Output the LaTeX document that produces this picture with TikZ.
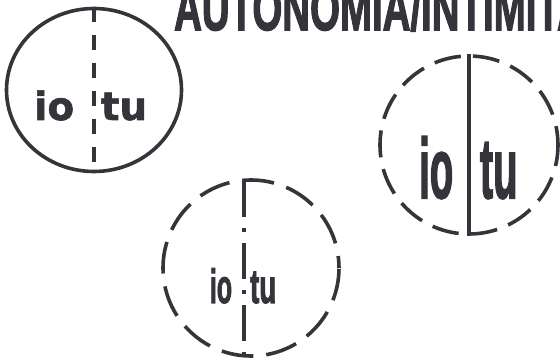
\documentclass[tikz,border=0pt]{standalone}
\usepackage{fontspec}
\setmainfont{Liberation Sans}
\newfontfamily\heavyface{Liberation Sans}[BoldFeatures={FakeBold=2.5}]
\newfontfamily\wideface{DejaVu Sans}[BoldFeatures={FakeBold=1.5}]
\usetikzlibrary{positioning, shapes.geometric}
\definecolor{ink}{RGB}{52,52,58}

\begin{document}
\begin{tikzpicture}[x=1pt, y=-1pt, line width=3.6pt, ink,
  ring/.style={draw, inner sep=0pt},
  word/.style={inner sep=0pt, text=ink}]
  \clip (0,0) rectangle (560,363);

  % title
  \node[word, anchor=base west, xscale=0.62, font=\heavyface\bfseries\fontsize{62}{64}\selectfont] (title) at (173,30) {AUTONOMIA/INTIMITA};

  % solid ring, dashed split
  \node[ring, ellipse, minimum width=175pt, minimum height=163pt] (c1) at (94,90) {};
  \draw[dash pattern=on 15pt off 13pt] (c1.north) -- (c1.south);
  \node[word, anchor=base east, font=\wideface\bfseries\fontsize{39}{40}\selectfont] (io1) at (76,120) {io};
  \node[word, anchor=base west, font=\wideface\bfseries\fontsize{39}{40}\selectfont] (tu1) at (99,120) {tu};

  % dashed ring, solid split
  \node[ring, circle, minimum size=178pt, dash pattern=on 27pt off 12pt, dash phase=8pt] (c2) at (469,145) {};
  \draw (c2.north) -- (c2.south);
  \node[word, anchor=base east, xscale=0.45, font=\heavyface\bfseries\fontsize{85}{87}\selectfont] (io2) at (454,198) {io};
  \node[word, anchor=base west, xscale=0.47, font=\heavyface\bfseries\fontsize{85}{87}\selectfont] (tu2) at (479,198) {tu};

  % dashed ring, dash-dot split
  \coordinate (t3) at (244,181);
  \coordinate (b3) at (244,358);
  \node[ring, circle, minimum size=176pt, dash pattern=on 32pt off 13pt, dash phase=20pt] (c3) at (251,268) {};
  \draw[dash pattern=on 36pt off 11pt on 4pt off 11pt] (t3) -- (b3);
  \node[word, anchor=base east, xscale=0.52, font=\heavyface\bfseries\fontsize{48}{50}\selectfont] (io3) at (233,303) {io};
  \node[word, anchor=base west, xscale=0.58, font=\heavyface\bfseries\fontsize{48}{50}\selectfont] (tu3) at (249,303) {tu};
\end{tikzpicture}
\end{document}
